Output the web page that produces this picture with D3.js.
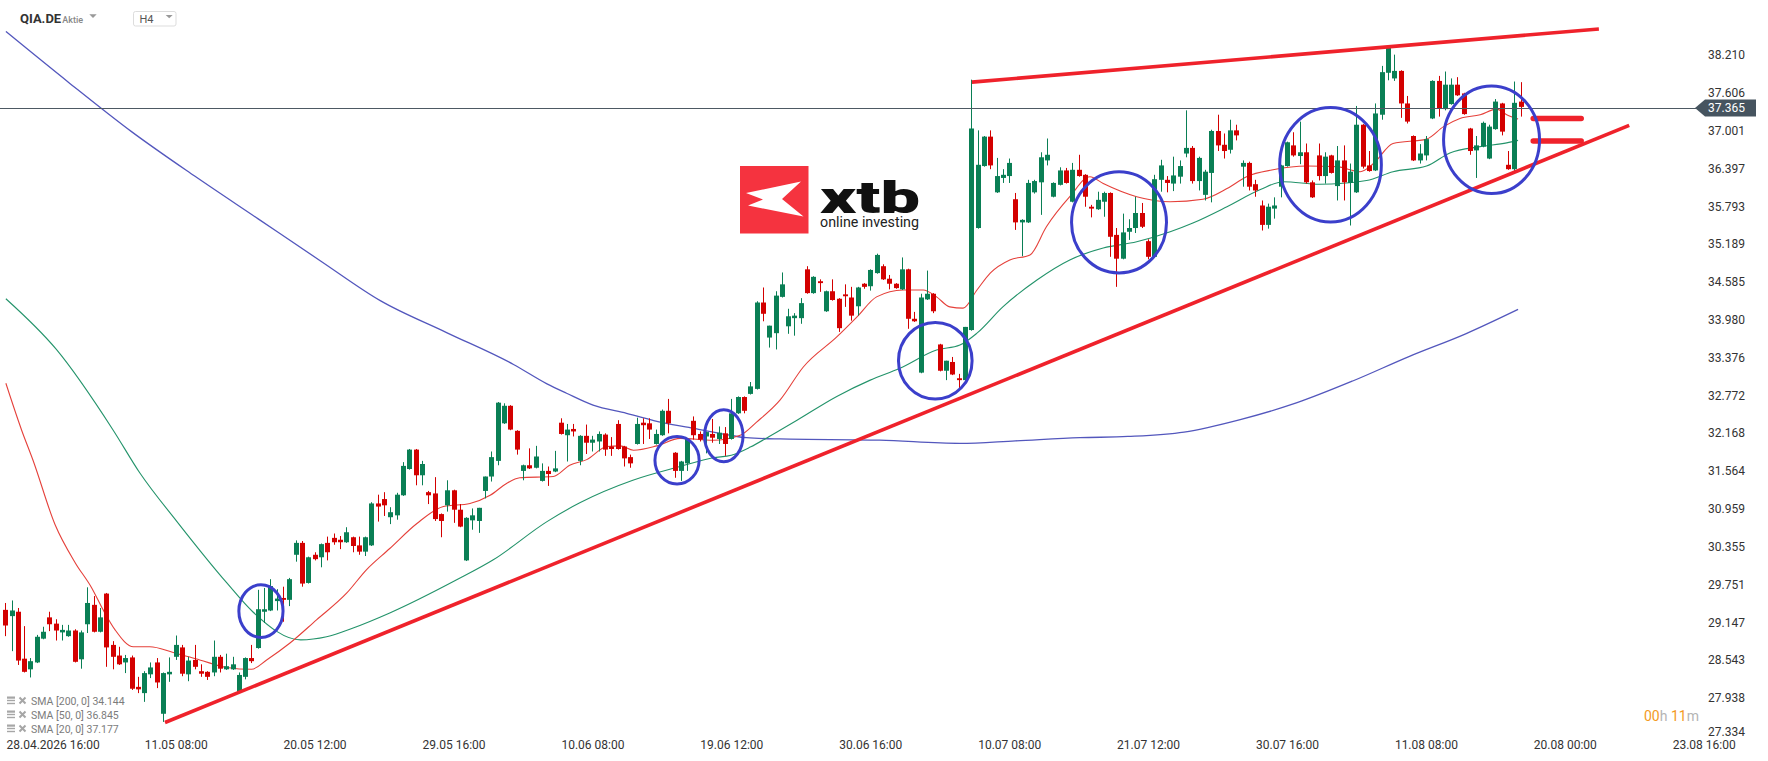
<!DOCTYPE html>
<html><head><meta charset="utf-8">
<script src="https://cdn.jsdelivr.net/npm/d3@7"></script>
<style>html,body{margin:0;padding:0;background:#fff;overflow:hidden}svg{display:block;font-family:Roboto,"Noto Sans",sans-serif}</style>
</head><body><svg id="c" width="1768" height="761"></svg>
<script>
// ---------- DATA ----------
const symbol = "QIA.DE", assetType = "Aktie", interval = "H4";
const firstIndex = -5; // bar index of the first candle (0 = 28.04.2026 16:00)
// [open, high, low, close]
const candles = [
[29.33,29.44,28.91,29.08],[29.23,29.48,28.67,29.32],[29.30,29.36,28.45,28.52],[28.55,29.07,28.33,28.34],[28.38,28.56,28.25,28.51],
[28.49,28.93,28.48,28.90],[28.87,29.06,28.86,28.98],[29.21,29.30,28.99,29.10],[29.11,29.18,28.84,29.00],[28.97,29.09,28.84,29.01],
[28.91,29.09,28.90,29.00],[29.00,29.02,28.49,28.50],[28.54,29.00,28.39,28.97],[29.10,29.69,28.96,29.44],[29.41,29.55,28.97,28.98],
[28.98,29.36,28.97,29.21],[29.59,29.60,28.42,28.73],[28.77,28.83,28.38,28.58],[28.60,28.74,28.45,28.46],[28.49,28.61,28.32,28.56],
[28.57,28.60,28.05,28.07],[28.10,28.26,28.00,28.06],[28.00,28.35,27.86,28.32],[28.30,28.49,28.24,28.41],[28.49,28.56,28.08,28.17],
[27.67,28.33,27.54,28.32],[28.30,28.57,28.18,28.34],[28.58,28.92,28.53,28.77],[28.73,28.77,28.27,28.31],[28.30,28.58,28.19,28.52],
[28.53,28.77,28.38,28.42],[28.35,28.46,28.26,28.31],[28.34,28.35,28.21,28.26],[28.33,28.84,28.27,28.58],[28.58,28.61,28.33,28.39],
[28.38,28.63,28.37,28.43],[28.38,28.58,28.37,28.46],[28.02,28.33,28.01,28.29],[28.26,28.57,28.22,28.56],[28.56,28.77,28.48,28.51],
[28.72,29.65,28.71,29.34],[29.30,29.68,29.12,29.34],[29.32,29.82,29.31,29.71],[29.47,29.66,29.32,29.51],[29.52,29.70,29.14,29.49],
[29.49,29.84,29.39,29.82],[30.21,30.44,30.10,30.40],[30.40,30.43,29.70,29.75],[29.76,30.18,29.75,30.17],[30.21,30.25,30.12,30.14],
[30.17,30.39,30.01,30.38],[30.40,30.50,30.12,30.25],[30.48,30.55,30.37,30.41],[30.45,30.51,30.30,30.41],[30.41,30.65,30.40,30.57],
[30.49,30.50,30.25,30.35],[30.36,30.50,30.21,30.26],[30.26,30.50,30.19,30.49],[30.36,31.05,30.35,31.03],[31.03,31.17,30.74,30.98],
[31.10,31.21,30.83,31.00],
[30.81,30.97,30.70,30.89],[30.84,31.20,30.77,31.17],[31.16,31.69,31.15,31.63],[31.58,31.90,31.57,31.89],[31.89,31.90,31.32,31.48],
[31.48,31.71,31.32,31.66],[31.21,31.23,31.02,31.16],[31.19,31.45,30.75,30.78],[30.86,30.87,30.49,30.75],[31.00,31.40,30.90,31.24],
[31.24,31.25,30.72,30.93],[30.93,31.02,30.65,30.66],[30.12,30.81,30.11,30.80],[30.76,30.95,30.61,30.84],[30.75,30.96,30.56,30.96],
[31.23,31.46,31.11,31.46],[31.46,31.86,31.38,31.77],[31.71,32.65,31.64,32.64],[32.31,32.63,32.30,32.59],[32.59,32.60,32.20,32.21],
[32.19,32.20,31.81,31.89],[31.55,31.65,31.40,31.64],[31.64,31.91,31.58,31.59],[31.60,31.95,31.59,31.78],[31.39,31.67,31.38,31.55],
[31.55,31.62,31.31,31.50],[31.54,31.87,31.53,31.59],[32.32,32.39,32.13,32.14],[32.12,32.30,31.70,32.21],[32.22,32.30,32.10,32.18],
[31.71,32.12,31.64,32.11],[32.11,32.29,31.82,32.00],[32.00,32.11,31.86,32.05],[32.02,32.18,31.86,32.14],[32.13,32.15,31.79,31.89],
[31.94,32.09,31.79,31.90],[32.30,32.36,31.89,31.90],[31.94,31.95,31.62,31.75],[31.77,31.81,31.60,31.67],[31.98,32.40,31.97,32.30],
[32.32,32.39,31.98,32.28],[32.31,32.39,32.06,32.21],[31.98,32.21,31.97,32.14],[32.12,32.53,32.11,32.51],[32.51,32.70,32.15,32.31],
[31.84,31.85,31.44,31.55],[31.55,31.71,31.39,31.70],[31.67,32.07,31.55,32.06],[32.35,32.42,32.05,32.12],[32.14,32.18,32.02,32.05],
[32.10,32.18,31.83,32.17],[32.14,32.38,32.00,32.08],[32.06,32.26,31.98,32.16],[32.15,32.25,31.79,31.98],[32.06,32.70,32.05,32.47],
[32.47,32.74,32.46,32.73],[32.73,32.74,32.47,32.51],[32.78,32.97,32.77,32.90],[32.86,34.26,32.85,34.24],[34.24,34.48,33.94,34.06],
[33.68,33.87,33.52,33.87],[33.75,34.42,33.49,34.35],
[34.33,34.72,34.32,34.53],[33.86,34.14,33.74,34.02],[33.99,34.07,33.71,34.03],[33.99,34.31,33.90,34.23],[34.77,34.82,34.38,34.39],
[34.39,34.66,34.38,34.65],[34.58,34.61,34.41,34.55],[34.10,34.43,34.09,34.42],[34.42,34.61,34.27,34.28],[34.30,34.31,33.77,33.83],
[34.37,34.53,34.17,34.34],[34.32,34.49,33.95,34.03],[34.18,34.49,34.03,34.48],[34.54,34.55,34.46,34.49],[34.50,34.77,34.43,34.76],
[34.71,35.02,34.70,35.00],[34.82,34.85,34.60,34.61],[34.62,34.68,34.45,34.54],[34.54,34.55,34.46,34.47],[34.45,34.96,34.44,34.77],
[34.77,34.78,33.82,33.98],[33.98,34.09,33.93,33.94],[33.12,34.38,33.11,34.32],[34.29,34.75,34.28,34.38],[34.38,34.39,34.07,34.10],
[33.57,33.58,33.14,33.15],[33.15,33.31,33.00,33.31],[33.29,33.37,33.08,33.09],[33.03,33.10,32.86,33.00],[33.00,33.85,32.99,33.85],
[33.80,37.80,33.79,37.02],[35.43,36.99,35.42,36.44],[36.42,36.90,36.41,36.89],[36.89,36.99,36.37,36.43],[36.00,36.55,35.99,36.26],
[36.23,36.37,36.15,36.28],[36.26,36.54,36.15,36.47],[35.89,35.99,35.40,35.52],[35.52,35.57,34.98,35.56],[35.52,36.20,35.51,36.15],
[36.00,36.20,35.98,36.18],[36.16,36.64,35.64,36.56],[36.51,36.86,36.43,36.60],[35.93,36.16,35.92,36.15],[36.12,36.40,36.11,36.35],
[36.35,36.39,36.14,36.15],[35.85,36.47,35.84,36.36],[36.36,36.60,36.25,36.26],[36.28,36.29,35.77,35.93],[35.77,35.80,35.60,35.74],
[35.73,36.01,35.72,35.88],[35.85,36.01,35.61,35.99],[35.99,36.00,34.97,35.29],[35.32,35.43,34.49,34.94],[34.94,35.66,34.93,35.36],
[35.37,35.57,35.24,35.43],[35.43,35.93,35.35,35.67],[35.67,35.83,35.43,35.45],[35.22,35.25,34.93,34.97],[34.97,36.28,34.96,36.21],
[36.20,36.52,36.01,36.43],[36.20,36.26,36.00,36.15],
[36.14,36.57,36.02,36.27],[36.25,36.51,36.14,36.42],[36.62,37.31,36.56,36.71],[36.71,36.74,36.14,36.18],[36.18,36.57,36.03,36.55],
[35.96,36.36,35.87,36.33],[36.31,37.00,35.84,36.98],[36.98,37.24,36.66,36.75],[36.76,36.94,36.54,36.66],[36.68,37.16,36.62,36.99],
[36.99,37.08,36.83,36.91],[36.41,36.51,36.09,36.47],[36.47,36.49,36.03,36.09],[36.13,36.20,35.93,36.03],[35.79,35.87,35.39,35.48],
[35.48,35.82,35.42,35.77],[35.74,35.92,35.58,35.79],[36.09,36.44,35.92,36.43],[36.42,36.81,36.41,36.80],[36.75,36.96,36.57,36.59],
[36.58,37.13,36.45,36.64],[36.64,36.78,36.14,36.16],[36.16,36.19,35.91,35.92],[36.59,36.78,36.19,36.26],[36.26,36.64,36.14,36.57],
[36.59,36.60,36.30,36.31],[36.10,36.74,35.87,36.51],[36.51,36.75,35.87,36.16],[36.15,36.46,35.47,36.33],[36.00,37.38,35.99,37.08],
[37.08,37.09,36.38,36.41],[36.43,36.66,36.33,36.34],[36.35,37.42,36.34,37.26],[37.24,38.02,37.16,37.92],[37.91,38.33,37.79,38.31],
[37.82,38.20,37.78,37.94],[37.94,37.95,37.19,37.42],[37.42,37.54,37.10,37.13],[36.90,36.91,36.50,36.51],[36.51,36.77,36.46,36.62],
[36.59,36.90,36.51,36.85],[37.18,37.79,37.17,37.78],[37.78,37.86,37.21,37.34],[37.33,37.93,37.31,37.72],[37.41,37.82,37.40,37.72],
[37.72,37.84,37.54,37.55],[37.58,37.59,37.24,37.25],[37.02,37.03,36.60,36.66],[36.67,36.90,36.23,36.75],[36.73,37.13,36.72,37.11],
[36.54,37.08,36.53,37.05],[37.01,37.49,37.00,37.45],[37.42,37.43,36.91,36.97],[36.44,36.66,36.36,36.37],[36.37,37.77,36.33,37.43],
[37.45,37.76,37.21,37.365]
];
// moving averages: [bar index, value]
const sma20 = [[-4.9,32.95],[-2.4,32.20],[-0.6,31.72],[2.9,30.69],[6.1,30.08],[8.7,29.68],[10.5,29.33],[12.4,29.01],[15.3,28.74],[17.9,28.74],[21.6,28.65],[25.8,28.53],[30.1,28.41],[34.0,28.38],[36.4,28.53],[40.1,28.80],[44.3,29.17],[49.1,29.60],[52.2,29.97],[55.9,30.31],[60.2,30.71],[64.4,30.98],[68.6,31.03],[71.8,31.16],[74.4,31.35],[76.5,31.44],[81.8,31.46],[84.4,31.64],[87.1,31.73],[90.3,31.94],[92.4,31.95],[94.5,31.88],[98.2,31.95],[101.9,32.07],[107.1,32.04],[111.4,32.12],[114.0,32.33],[117.7,32.68],[121.4,33.21],[126.7,33.69],[129.9,34.01],[133.0,34.33],[137.2,34.44],[140.4,34.44],[142.5,34.33],[144.6,34.17],[146.7,34.15],[148.9,34.44],[151.0,34.71],[154.1,34.92],[157.3,35.00],[159.9,35.45],[163.6,35.93],[166.8,36.25],[168.9,36.14],[174.2,35.93],[179.5,35.85],[184.7,35.89],[188.5,36.06],[191.6,36.25],[195.8,36.36],[201.1,36.42],[205.9,36.41],[209.6,36.33],[211.7,36.46],[214.8,36.78],[220.1,36.85],[222.8,37.05],[225.4,37.18],[228.6,37.24],[231.2,37.33],[232.8,37.24],[234.6,37.17]];
const sma50 = [[-4.9,34.30],[3.1,33.49],[12.1,32.20],[16.3,31.52],[22.2,30.74],[30.1,29.76],[34.2,29.30],[41.8,28.85],[45.9,28.90],[50.1,29.04],[55.9,29.28],[66.5,29.81],[72.3,30.13],[80.8,30.74],[86.0,31.04],[94.4,31.40],[101.9,31.62],[107.1,31.76],[110,31.80],[113,31.93],[116,32.10],[117.7,32.20],[120.4,32.36],[126.7,32.74],[132.0,33.00],[136.7,33.19],[142.5,33.48],[146.2,33.56],[148.9,33.75],[153.0,34.17],[158.4,34.60],[163.6,34.92],[168.9,35.11],[174.2,35.21],[179.5,35.37],[183.1,35.51],[188.5,35.77],[193.7,36.04],[197.4,36.17],[203.2,36.13],[210.6,36.19],[214.8,36.33],[220.1,36.42],[223.8,36.63],[228.6,36.73],[232.8,36.79],[234.6,36.83]];
const sma200 = [[-4.9,38.57],[5,37.76],[15,36.97],[25,36.26],[35,35.58],[45,34.90],[54.4,34.27],[64.9,33.76],[75.5,33.25],[80.8,32.94],[83.9,32.79],[88.1,32.60],[93.4,32.47],[99.2,32.32],[104.5,32.22],[109.8,32.12],[112.4,32.08],[117.7,32.06],[133.5,32.04],[146.2,31.99],[155,32.03],[165.2,32.08],[172.8,32.10],[181.7,32.17],[190.6,32.37],[199.6,32.64],[208.5,32.99],[217.4,33.38],[226.3,33.74],[234.6,34.13]];
const legendLabels = ["SMA [200, 0] 34.144","SMA [50, 0] 36.845","SMA [20, 0] 37.177"];
const lastPrice = 37.365;
const yTicks = [38.210,37.606,37.001,36.397,35.793,35.189,34.585,33.980,33.376,32.772,32.168,31.564,30.959,30.355,29.751,29.147,28.543,27.938,27.334];
const xTicks = [0,22,44,66,88,110,132,154,176,198,220,242,264];
const xTickLabels = ["28.04.2026 16:00","11.05 08:00","20.05 12:00","29.05 16:00","10.06 08:00","19.06 12:00","30.06 16:00","10.07 08:00","21.07 12:00","30.07 16:00","11.08 08:00","20.08 00:00","23.08 16:00"];
// drawn annotations, in [bar index, price] units
const trendLines = [[20.3,27.53,252.2,37.07],[148.1,37.76,247.4,38.61]];
const markerLines = [[237.0,37.18,244.6,37.18],[237.0,36.82,244.6,36.82]];
const circles = [[35.5,29.31,3.5,0.42],[101.4,31.72,3.5,0.38],[108.8,32.11,3.05,0.415],[142.3,33.31,5.83,0.612],[171.4,35.52,7.52,0.807],[204.9,36.44,8.05,0.914],[230.4,36.84,7.6,0.86]];
const timerParts = [["00","#f39a1e"],["h ","#b4b4b4"],["11","#f39a1e"],["m","#b4b4b4"]];

// ---------- DRAW ----------
const svg = d3.select("#c");
const x = d3.scaleLinear().domain([0,264]).range([36.8,1703.7]);
const y = d3.scaleLinear().domain([27.334,38.210]).range([734.8,54]);

svg.append("rect").attr("width",1768).attr("height",761).attr("fill","#fff");

// logo
const logo = svg.append("g");
logo.append("rect").attr("x",740).attr("y",166).attr("width",68.5).attr("height",67.5).attr("fill","#f5333f");
logo.append("path").attr("d","M746,193 L801,181.5 L782,199 L803.5,216.5 L748,205.5 L763,199.5 Z").attr("fill","#fff");
logo.append("text").attr("x",820).attr("y",213.3).attr("font-size",45).attr("font-weight",900).attr("fill","#111")
  .attr("textLength",100).attr("lengthAdjust","spacingAndGlyphs").text("xtb");
logo.append("text").attr("x",820).attr("y",226.5).attr("font-size",14).attr("fill","#222")
  .attr("textLength",99).attr("lengthAdjust","spacingAndGlyphs").text("online investing");

// moving averages
const line = d3.line().x(d=>x(d[0])).y(d=>y(d[1])).curve(d3.curveMonotoneX);
[[sma200,"#5357bd",1.3],[sma50,"#23936a",1.1],[sma20,"#e5403a",1.1]].forEach(([d,col,w])=>{
  svg.append("path").datum(d).attr("d",line).attr("fill","none").attr("stroke",col).attr("stroke-width",w);
});

// candles
const bars = candles.map((c,k)=>({i:k+firstIndex,o:c[0],h:Math.max(c[1],c[0],c[3]),l:Math.min(c[2],c[0],c[3]),c:c[3]}));
const cg = svg.append("g");
const GREEN="#0a7f55", RED="#d30000";
cg.selectAll("line").data(bars).join("line")
  .attr("x1",d=>Math.round(x(d.i))+0.5).attr("x2",d=>Math.round(x(d.i))+0.5)
  .attr("y1",d=>y(d.h)).attr("y2",d=>y(d.l))
  .attr("stroke",d=>d.c>=d.o?GREEN:RED).attr("stroke-width",1);
cg.selectAll("rect").data(bars).join("rect")
  .attr("x",d=>Math.round(x(d.i))-2).attr("width",5)
  .attr("y",d=>Math.min(y(d.o),y(d.c))).attr("height",d=>Math.max(1.2,Math.abs(y(d.o)-y(d.c))))
  .attr("fill",d=>d.c>=d.o?GREEN:RED);

// last price line
const py = y(lastPrice)+1;
svg.append("line").attr("x1",0).attr("x2",1696).attr("y1",Math.round(py)+0.5).attr("y2",Math.round(py)+0.5)
  .attr("stroke","#4d5963").attr("stroke-width",1);

// trend lines
svg.selectAll(".tl").data(trendLines).join("line").attr("class","tl")
  .attr("x1",d=>x(d[0])).attr("y1",d=>y(d[1])).attr("x2",d=>x(d[2])).attr("y2",d=>y(d[3]))
  .attr("stroke","#ef222b").attr("stroke-width",3.6);
svg.selectAll(".ml").data(markerLines).join("line").attr("class","ml")
  .attr("x1",d=>x(d[0])).attr("y1",d=>y(d[1])).attr("x2",d=>x(d[2])).attr("y2",d=>y(d[3]))
  .attr("stroke","#ef222b").attr("stroke-width",5.5).attr("stroke-linecap","round");

// circles
const pxPerBar = x(1)-x(0), pxPerUnit = y(0)-y(1);
svg.selectAll(".ci").data(circles).join("ellipse").attr("class","ci")
  .attr("cx",d=>x(d[0])).attr("cy",d=>y(d[1]))
  .attr("rx",d=>d[2]*pxPerBar).attr("ry",d=>d[3]*pxPerUnit)
  .attr("fill","none").attr("stroke","#3b3fcb").attr("stroke-width",3);

// y axis
const yAxis = d3.axisLeft(y).tickValues(yTicks).tickFormat(d3.format(".3f")).tickSize(0).tickPadding(0);
const yg = svg.append("g").attr("transform","translate(1745,1.4)").call(yAxis);
yg.select(".domain").remove();
yg.selectAll("text").attr("font-size",12).attr("fill","#333").attr("font-family","Roboto, sans-serif");
yg.selectAll(".tick").attr("transform",d=>`translate(0,${Math.min(y(d),730.5)})`);

// price tag
const tag = svg.append("g");
tag.append("path").attr("d",`M1695,${py} L1705,${py-8.5} L1756,${py-8.5} L1756,${py+8.5} L1705,${py+8.5} Z`).attr("fill","#46545f");
tag.append("text").attr("x",1745).attr("y",py).attr("dy","0.36em").attr("text-anchor","end")
  .attr("font-size",12).attr("fill","#fff").text(d3.format(".3f")(lastPrice));

// x axis
const xAxis = d3.axisBottom(x).tickValues(xTicks).tickFormat((d,k)=>xTickLabels[k]).tickSize(0).tickPadding(0);
const xg = svg.append("g").attr("transform","translate(0,740)").call(xAxis);
xg.select(".domain").remove();
xg.selectAll("text").attr("font-size",12).attr("fill","#333").attr("font-family","Roboto, sans-serif");
xg.selectAll("text").filter((d,k)=>k===0).attr("text-anchor","start").attr("x",6-x(0));

// legend
const lg = svg.append("g");
legendLabels.forEach((t,k)=>{
  const yc = 701 + k*14;
  lg.append("rect").attr("x",7).attr("y",yc-4.5).attr("width",8).attr("height",2.2).attr("fill","#a6a6a6");
  lg.append("rect").attr("x",7).attr("y",yc-1.2).attr("width",8).attr("height",1.4).attr("fill","#a6a6a6");
  lg.append("rect").attr("x",7).attr("y",yc+1.8).attr("width",8).attr("height",1.4).attr("fill","#a6a6a6");
  lg.append("path").attr("d",`M19.5,${yc-3.5} L25.5,${yc+2.5} M25.5,${yc-3.5} L19.5,${yc+2.5}`).attr("stroke","#a6a6a6").attr("stroke-width",2);
  lg.append("text").attr("x",31).attr("y",yc+3.8).attr("font-size",10.5).attr("fill","#7c7c7c").text(t);
});

// timer
const tt = svg.append("text").attr("x",1644).attr("y",721).attr("font-size",14);
timerParts.forEach(([s,c])=>tt.append("tspan").attr("fill",c).text(s));

// header
const hd = svg.append("g");
hd.append("text").attr("x",20).attr("y",23.3).attr("font-size",13).attr("font-weight",700).attr("fill","#333").text(symbol);
hd.append("text").attr("x",62.3).attr("y",23).attr("font-size",9).attr("font-weight",500).attr("fill","#888").text(assetType);
hd.append("path").attr("d","M89.3,14.3 L96.7,14.3 L93,18 Z").attr("fill","#999");
hd.append("rect").attr("x",133.5).attr("y",11.5).attr("width",42.5).attr("height",14.5).attr("rx",2).attr("fill","#fff").attr("stroke","#ddd");
hd.append("text").attr("x",139.5).attr("y",23.2).attr("font-size",11).attr("fill","#555").text(interval);
hd.append("path").attr("d","M165.7,15 L172.7,15 L169.2,18.3 Z").attr("fill","#999");
</script></body></html>
